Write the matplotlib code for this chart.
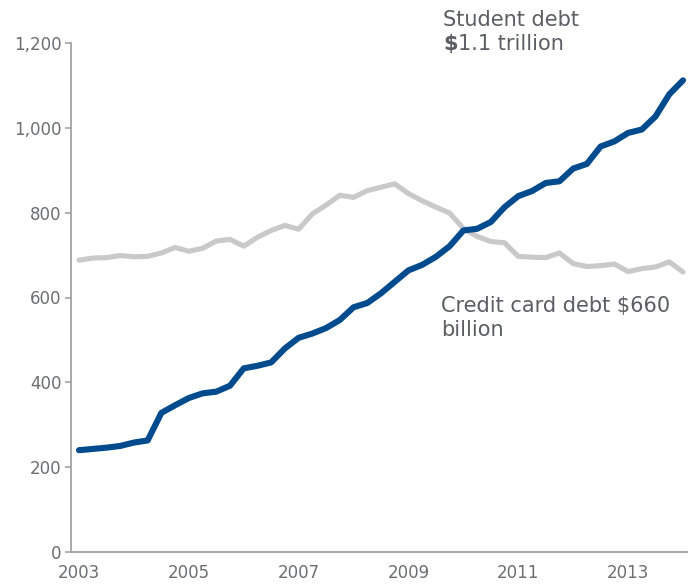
import matplotlib
matplotlib.use("Agg")
import matplotlib.pyplot as plt
import numpy as np
from matplotlib.ticker import FuncFormatter

# Quarterly balances, billions of dollars, 2003 Q1 - 2014 Q1
quarters = 2003 + np.arange(45) * 0.25
student_debt = [
    240, 243, 246, 250, 258, 263, 328, 346, 363, 374,
    378, 392, 433, 439, 447, 480, 505, 515, 528, 547,
    577, 587, 610, 637, 664, 677, 696, 721, 758, 762,
    778, 813, 839, 851, 870, 874, 904, 915, 956, 968,
    988, 996, 1027, 1079, 1112,
]
credit_card_debt = [
    688, 693, 694, 699, 696, 697, 705, 718, 709, 716,
    733, 737, 721, 742, 758, 770, 761, 797, 818, 841,
    836, 852, 860, 868, 845, 828, 813, 799, 763, 744,
    732, 729, 697, 695, 694, 705, 680, 673, 675, 679,
    661, 668, 672, 684, 660,
]
year_ticks = [2003, 2005, 2007, 2009, 2011, 2013]
value_ticks = [0, 200, 400, 600, 800, 1000, 1200]

W, H = 688, 584
fig = plt.figure(figsize=(W / 100, H / 100), dpi=100)
ax = fig.add_axes([71 / W, 1 - 552 / H, 1 - 71 / W, (552 - 43) / H])

blue = "#004b8d"
grey_line = "#c9c9c9"
axis_grey = "#a3a3a3"
text_grey = "#5b5e63"
tick_grey = "#6d6e71"

ax.plot(quarters, credit_card_debt, color=grey_line, lw=3.7,
        solid_capstyle="round", solid_joinstyle="round")
ax.plot(quarters, student_debt, color=blue, lw=4.4,
        solid_capstyle="round", solid_joinstyle="round")

px_per_year = 604 / 11
ax.set_xlim(2003 - 8 / px_per_year, 2003 + (W - 79) / px_per_year)
ax.set_ylim(0, 1200)
ax.set_xticks(year_ticks)
ax.set_xticklabels([str(y) for y in year_ticks])
ax.set_yticks(value_ticks)
ax.yaxis.set_major_formatter(FuncFormatter(lambda v, p: f"{int(v):,}"))

for side in ("top", "right"):
    ax.spines[side].set_visible(False)
for side in ("left", "bottom"):
    ax.spines[side].set_color(axis_grey)
    ax.spines[side].set_linewidth(1.3)

ax.tick_params(axis="y", length=4, width=1.2, color=axis_grey,
               labelcolor=tick_grey, labelsize=12, pad=3)
ax.tick_params(axis="x", length=0, labelcolor=tick_grey,
               labelsize=12, pad=9)

# Annotations
fs = 15
fig.text(443 / W, 1 - 26 / H, "Student debt", fontsize=fs, color=text_grey,
         va="baseline", ha="left")
dollar = fig.text(443 / W, 1 - 50 / H, "\\$", fontsize=fs, color=text_grey,
                  fontweight="bold", va="baseline", ha="left")
fig.canvas.draw()
bb = dollar.get_window_extent(renderer=fig.canvas.get_renderer())
fig.text(bb.x1 / W, 1 - 50 / H, "1.1 trillion", fontsize=fs,
         color=text_grey, va="baseline", ha="left")

fig.text(441 / W, 1 - 312 / H, "Credit card debt \\$660", fontsize=fs,
         color=text_grey, va="baseline", ha="left")
fig.text(441 / W, 1 - 336 / H, "billion", fontsize=fs, color=text_grey,
         va="baseline", ha="left")

fig.savefig("out.png", dpi=100, facecolor="white")
